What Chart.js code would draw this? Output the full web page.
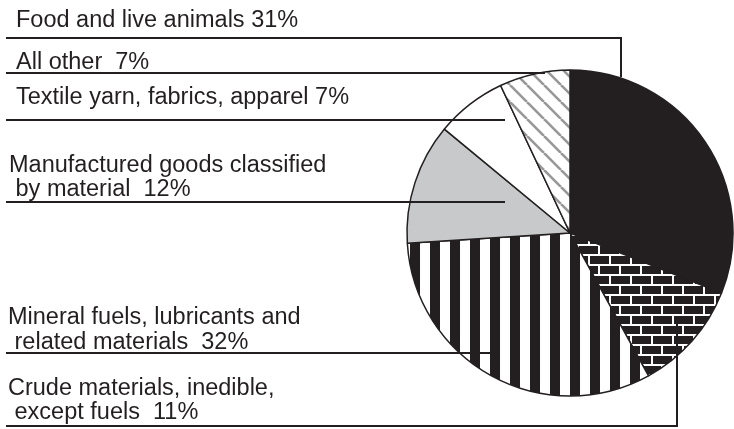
<!DOCTYPE html>
<html>
<head>
<meta charset="utf-8">
<script src="https://cdn.jsdelivr.net/npm/chart.js@4"></script>
<style>
  html, body { margin: 0; padding: 0; background: #fff; }
  canvas { display: block; }
</style>
</head>
<body>
<canvas id="tradeChart" width="734" height="429"></canvas>
<script>
// Commodity groups, clockwise from 12 o'clock
const categories = [
    'Food and live animals',
    'Crude materials, inedible,\nexcept fuels',
    'Mineral fuels, lubricants and\nrelated materials',
    'Manufactured goods classified\nby material',
    'Textile yarn, fabrics, apparel',
    'All other'
];
const shares = [31, 11, 32, 12, 7, 7]; // percent of total
const gaps = [' ', '  ', '  ', '  ', ' ', '  ']; // spacing before the percent

const INK = '#231f20';

// Fill patterns
function tile(w, h, paint) {
    const c = document.createElement('canvas');
    c.width = w;
    c.height = h;
    paint(c.getContext('2d'), w, h);
    return document.createElement('canvas').getContext('2d').createPattern(c, 'repeat');
}

const brick = tile(21, 20, (g, w, h) => {
    g.fillStyle = INK;
    g.fillRect(0, 0, w, h);
    g.fillStyle = '#fff';
    g.fillRect(0, 4, w, 2);
    g.fillRect(0, 14, w, 2);
    g.fillRect(10, 6, 2, 8);
    g.fillRect(0, 16, 2, 4);
    g.fillRect(0, 0, 2, 4);
});

const stripes = tile(20, 20, (g, w, h) => {
    g.fillStyle = '#fff';
    g.fillRect(0, 0, w, h);
    g.fillStyle = INK;
    g.fillRect(10, 0, 10, h);
});

const hatch = tile(17, 17, (g, w, h) => {
    g.fillStyle = '#fff';
    g.fillRect(0, 0, w, h);
    g.strokeStyle = '#989898';
    g.lineWidth = 2.6;
    g.beginPath();
    for (const k of [-w, 0, w]) {
        g.moveTo(k, 0);
        g.lineTo(k + w, h);
    }
    g.stroke();
});

const fills = [INK, brick, stripes, '#c8c9ca', '#ffffff', hatch];

// Label text and leader lines, one entry per slice
const callouts = [
    { x: 16, y: [27], path: [[6, 38], [621, 38], [621, 77]] },
    { x: 8, y: [395, 419], path: [[6, 426], [677, 426], [677, 323]] },
    { x: 8, y: [324, 349], path: [[6, 353], [491, 353]] },
    { x: 9, y: [172, 196], path: [[6, 202], [505, 202]] },
    { x: 16, y: [104], path: [[6, 120], [505, 120]] },
    { x: 16, y: [69], path: [[6, 73], [545, 73]] }
];

const calloutPlugin = {
    id: 'callouts',
    afterDraw(chart) {
        const ctx = chart.ctx;
        ctx.save();
        ctx.fillStyle = INK;
        ctx.strokeStyle = INK;
        ctx.lineWidth = 2;
        ctx.font = '23.5px "Liberation Sans", Arial, sans-serif';
        ctx.textBaseline = 'alphabetic';
        categories.forEach((name, i) => {
            const c = callouts[i];
            const lines = name.split('\n');
            lines[lines.length - 1] += gaps[i] + shares[i] + '%';
            lines.forEach((line, j) => {
                ctx.fillText((j > 0 ? ' ' : '') + line, c.x, c.y[j]);
            });
            ctx.beginPath();
            c.path.forEach(([px, py], k) => k ? ctx.lineTo(px, py) : ctx.moveTo(px, py));
            ctx.stroke();
        });
        ctx.restore();
    }
};

new Chart(document.getElementById('tradeChart'), {
    type: 'pie',
    data: {
        labels: categories,
        datasets: [{
            data: shares,
            backgroundColor: fills,
            borderColor: INK,
            borderWidth: 1.5
        }]
    },
    options: {
        responsive: false,
        animation: false,
        radius: 163,
        layout: { padding: { left: 407, top: 70, right: 1, bottom: 33 } },
        plugins: {
            legend: { display: false },
            tooltip: { enabled: false }
        }
    },
    plugins: [calloutPlugin]
});
</script>
</body>
</html>
